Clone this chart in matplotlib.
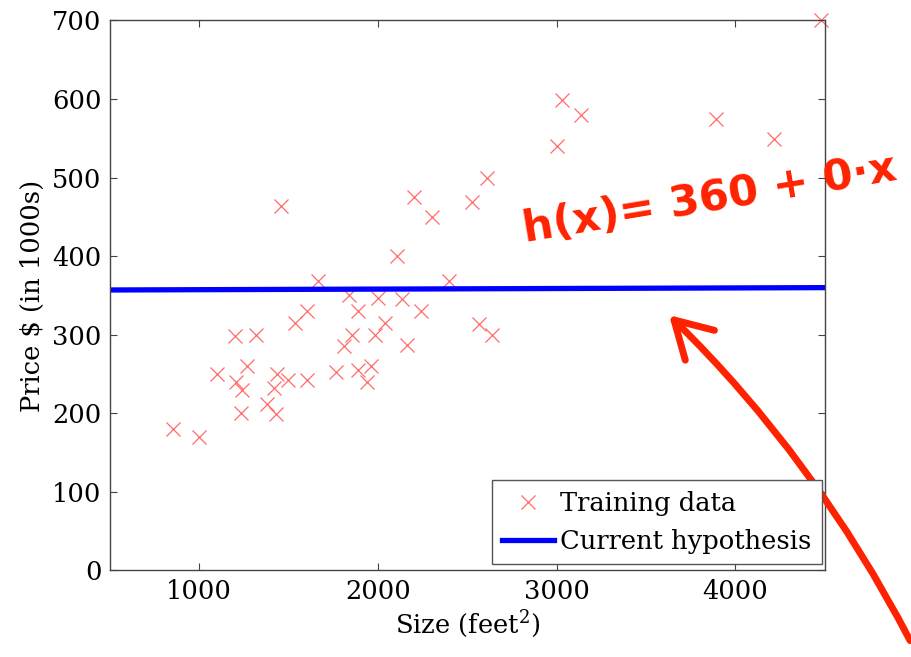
import matplotlib.pyplot as plt

plt.rcParams['font.family'] = ['DejaVu Serif']
plt.rcParams['mathtext.fontset'] = 'dejavuserif'

# house size (feet^2) and price (in 1000s)
size_ft2 = [2104, 1600, 2400, 1416, 3000, 1985, 1534, 1427, 1380, 1494,
            1940, 2000, 1890, 4478, 1268, 2300, 1320, 1236, 2609, 3031,
            1767, 1888, 1604, 1962, 3890, 1100, 1458, 2526, 2200, 2637,
            1839, 1000, 2040, 3137, 1811, 1437, 1239, 2132, 4215, 2162,
            1664, 2238, 2567, 1200, 852, 1852, 1203]
price_k = [400, 330, 369, 232, 540, 300, 315, 199, 212, 242,
           240, 347, 330, 700, 260, 450, 300, 200, 500, 599,
           253, 255, 243, 260, 574, 250, 464, 469, 475, 300,
           350, 170, 315, 580, 286, 250, 230, 345, 549, 287,
           368, 330, 314, 299, 180, 300, 240]

# current hypothesis, drawn across the x range
hyp_x = [500, 4500]
hyp_y = [357, 360]

fig = plt.figure(figsize=(9.11, 6.57), dpi=100)
ax = fig.add_axes([0.1207, 0.1317, 0.7846, 0.8371])

ax.plot(size_ft2, price_k, 'x', color='#ff6b6b', markersize=10,
        markeredgewidth=0.9, label='Training data', clip_on=False)
ax.plot(hyp_x, hyp_y, '-', color='#0000ff', linewidth=3.8,
        label='Current hypothesis')

ax.set_xlim(500, 4500)
ax.set_ylim(0, 700)
ax.set_xticks([1000, 2000, 3000, 4000])
ax.set_yticks(range(0, 701, 100))
ax.tick_params(direction='in', length=5, width=0.8, top=True, right=True,
               labelsize=18.5, colors='#444444', labelcolor='black', pad=6)
for s in ax.spines.values():
    s.set_color('#444444')
    s.set_linewidth(1.0)

ax.set_xlabel('Size (feet$^2$)', fontsize=18.5, labelpad=3)
ax.set_ylabel(r'Price \$ (in 1000s)', fontsize=18.5, labelpad=5)

leg = ax.legend(loc='lower right', bbox_to_anchor=(0.996, 0.012),
                fontsize=18.5, numpoints=1, fancybox=False, framealpha=1,
                edgecolor='#555555', handlelength=2.0, handletextpad=0.25,
                borderpad=0.4, labelspacing=0.5, borderaxespad=0)
leg.get_frame().set_linewidth(1.0)

# handwritten note
fig.text(0.571, 0.697, 'h(x)= 360 + 0·x', color='#ff2200', fontsize=31,
         fontweight='bold', family='DejaVu Sans', rotation=9.5,
         ha='left', va='center')

ax.annotate('', xy=(3629, 325), xycoords='data',
            xytext=(0.999, 0.025), textcoords='figure fraction',
            arrowprops=dict(arrowstyle='->,head_length=2.6,head_width=1.5',
                            color='#ff2200', lw=5,
                            connectionstyle='arc3,rad=0.08',
                            shrinkA=0, shrinkB=0),
            annotation_clip=False)

fig.savefig('out.png', dpi=100)
